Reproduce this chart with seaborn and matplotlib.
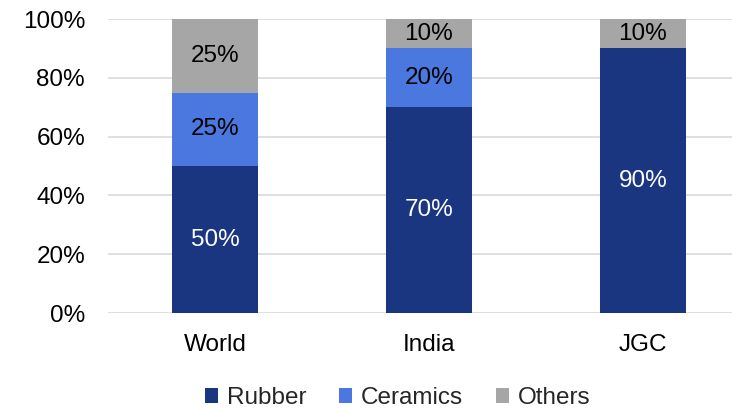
import matplotlib
matplotlib.use("Agg")
import matplotlib.pyplot as plt
import seaborn as sns
import numpy as np

categories = ["World", "India", "JGC"]
rubber = [50, 70, 90]
ceramics = [25, 20, 0]
others = [25, 10, 10]
series_names = ["Rubber", "Ceramics", "Others"]
colors = ["#1A3680", "#4A78DE", "#A6A6A6"]
label_colors = ["white", "black", "black"]
y_ticks = [0, 20, 40, 60, 80, 100]

FS = 17.5

sns.set_theme(style="white")
plt.rcParams['font.family'] = ['Liberation Sans', 'DejaVu Sans']

fig = plt.figure(figsize=(7.32, 4.08), dpi=100)
ax = fig.add_axes([108/732, 95/408, 642/732, 294/408])

bottom = np.zeros(len(categories))
for name, vals, c, lc in zip(series_names, [rubber, ceramics, others], colors, label_colors):
    vals = np.array(vals, dtype=float)
    sns.barplot(x=categories, y=vals, bottom=bottom, color=c, width=0.4,
                label=name, ax=ax, saturation=1, linewidth=0)
    cont = ax.containers[-1]
    labels = [f"{int(v)}%" if v > 0 else "" for v in vals]
    ax.bar_label(cont, labels=labels, label_type="center", color=lc, fontsize=FS)
    bottom += vals

ax.set_xlim(-0.5, 2.5)
ax.set_ylim(0, 100)
ax.set_yticks(y_ticks)
ax.set_yticklabels([f"{t}%" for t in y_ticks], fontsize=FS, color="black")
ax.tick_params(axis="y", length=0, pad=16.5)
ax.tick_params(axis="x", length=0, pad=15, labelsize=FS, labelcolor="black")
ax.yaxis.grid(True, color="#D9D9D9", linewidth=1.2)
ax.set_axisbelow(True)
for s in ax.spines.values():
    s.set_visible(False)
ax.set_xlabel("")
ax.set_ylabel("")
if ax.get_legend():
    ax.get_legend().remove()

handles, labels = ax.get_legend_handles_labels()
fig.legend(handles, labels, loc="center", bbox_to_anchor=(0.543, 0.024), ncol=3,
           frameon=False, fontsize=FS, handlelength=0.55, handleheight=0.55,
           handletextpad=0.35, columnspacing=1.35)

fig.savefig("out.png", dpi=100)
